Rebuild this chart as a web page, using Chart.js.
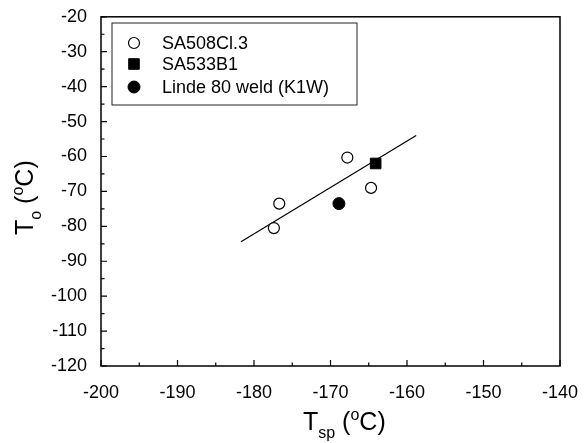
<!DOCTYPE html>
<html>
<head>
<meta charset="utf-8">
<script src="https://cdn.jsdelivr.net/npm/chart.js@4.4.0/dist/chart.umd.min.js"></script>
<style>
  html, body { margin: 0; padding: 0; background: #fff; }
  #wrap { width: 587px; height: 443px; }
</style>
</head>
<body>
<div id="wrap"><canvas id="chart" width="587" height="443"></canvas></div>
<script>
// values
var sa508_x = [-177.4, -176.7, -167.8, -164.7];
var sa508_y = [-80.5, -73.5, -60.3, -69.0];
var sa533_x = [-164.1];
var sa533_y = [-62.0];
var linde_x = [-168.9];
var linde_y = [-73.5];
var fit_x = [-181.7, -158.8];
var fit_y = [-84.4, -54.0];

var legend_labels = ['SA508Cl.3', 'SA533B1', 'Linde 80 weld (K1W)'];

var toPoints = function (xs, ys) {
    return xs.map(function (x, i) { return {x: x, y: ys[i]}; });
};

var FONT = '"Liberation Sans", Arial, Helvetica, sans-serif';

// frame, inward ticks, axis titles and legend box
var decorations = {
    id: 'decorations',
    afterDraw: function (chart) {
        var ctx = chart.ctx;
        var a = chart.chartArea;
        var xs = chart.scales.x, ys = chart.scales.y;
        ctx.save();
        ctx.strokeStyle = '#000';
        ctx.lineWidth = 1.5;
        ctx.strokeRect(a.left, a.top, a.right - a.left, a.bottom - a.top);

        ctx.lineWidth = 1.2;
        ctx.beginPath();
        var v, p, len;
        for (v = -200; v <= -140; v += 5) {
            p = xs.getPixelForValue(v);
            len = (v % 10 === 0) ? 6 : 3.5;
            ctx.moveTo(p, a.bottom);
            ctx.lineTo(p, a.bottom - len);
        }
        for (v = -120; v <= -20; v += 5) {
            p = ys.getPixelForValue(v);
            len = (v % 10 === 0) ? 6 : 3.5;
            ctx.moveTo(a.left, p);
            ctx.lineTo(a.left + len, p);
        }
        ctx.stroke();

        ctx.fillStyle = '#000';
        ctx.textBaseline = 'alphabetic';
        ctx.textAlign = 'left';
        var big = '25px ' + FONT, small = '16px ' + FONT;

        // x title: T_sp (oC)
        var x = 303, y = 430;
        ctx.font = big; ctx.fillText('T', x, y); x += ctx.measureText('T').width;
        ctx.font = small; ctx.fillText('sp', x, y + 8); x += ctx.measureText('sp').width;
        ctx.font = big; ctx.fillText(' (', x, y); x += ctx.measureText(' (').width;
        ctx.font = small; ctx.fillText('o', x, y - 10); x += ctx.measureText('o').width;
        ctx.font = big; ctx.fillText('C)', x, y);

        // y title: T_o (oC), rotated
        ctx.save();
        ctx.translate(33, 235);
        ctx.rotate(-Math.PI / 2);
        x = 0; y = 0;
        ctx.font = big; ctx.fillText('T', x, y); x += ctx.measureText('T').width;
        ctx.font = small; ctx.fillText('o', x, y + 8); x += ctx.measureText('o').width;
        ctx.font = big; ctx.fillText(' (', x, y); x += ctx.measureText(' (').width;
        ctx.font = small; ctx.fillText('o', x, y - 10); x += ctx.measureText('o').width;
        ctx.font = big; ctx.fillText('C)', x, y);
        ctx.restore();

        // legend
        ctx.lineWidth = 1;
        ctx.strokeStyle = '#222';
        ctx.strokeRect(112, 23, 245, 82);
        var rows = [43, 64, 87];
        var styles = chart.data.datasets.slice(0, 3);
        ctx.font = '18px ' + FONT;
        ctx.textBaseline = 'middle';
        for (var i = 0; i < 3; i++) {
            var ds = styles[i];
            ctx.fillStyle = ds.backgroundColor;
            ctx.strokeStyle = ds.borderColor;
            ctx.lineWidth = ds.borderWidth;
            Chart.helpers.drawPoint(ctx, {
                pointStyle: ds.pointStyle,
                radius: ds.pointRadius,
                borderWidth: ds.borderWidth,
                rotation: 0
            }, 134, rows[i]);
            ctx.fillStyle = '#000';
            ctx.fillText(legend_labels[i], 162, rows[i] + 1);
        }
        ctx.restore();
    }
};

var ctx = document.getElementById('chart').getContext('2d');
var chart = new Chart(ctx, {
    type: 'scatter',
    data: {
        datasets: [
            {
                label: legend_labels[0],
                data: toPoints(sa508_x, sa508_y),
                pointStyle: 'circle',
                pointRadius: 5.5,
                backgroundColor: '#fff',
                borderColor: '#000',
                borderWidth: 1.2
            },
            {
                label: legend_labels[1],
                data: toPoints(sa533_x, sa533_y),
                pointStyle: 'rect',
                pointRadius: 7.5,
                backgroundColor: '#000',
                borderColor: '#000',
                borderWidth: 1
            },
            {
                label: legend_labels[2],
                data: toPoints(linde_x, linde_y),
                pointStyle: 'circle',
                pointRadius: 6,
                backgroundColor: '#000',
                borderColor: '#000',
                borderWidth: 1
            },
            {
                label: 'fit',
                type: 'line',
                data: toPoints(fit_x, fit_y),
                showLine: true,
                pointRadius: 0,
                borderColor: '#000',
                borderWidth: 1.2,
                fill: false
            }
        ]
    },
    options: {
        responsive: false,
        animation: false,
        layout: { padding: { top: 14, right: 27, left: 0, bottom: 0 } },
        plugins: {
            legend: { display: false },
            tooltip: { enabled: false }
        },
        scales: {
            x: {
                type: 'linear',
                min: -200, max: -140,
                grid: { display: false },
                border: { display: false },
                ticks: {
                    stepSize: 10,
                    padding: 8,
                    color: '#000',
                    font: { family: FONT, size: 18 },
                    maxRotation: 0
                },
                afterFit: function (scale) { scale.height = 77; }
            },
            y: {
                type: 'linear',
                min: -120, max: -20,
                grid: { display: false },
                border: { display: false },
                ticks: {
                    stepSize: 10,
                    padding: 6,
                    color: '#000',
                    font: { family: FONT, size: 18 }
                },
                afterFit: function (scale) { scale.width = 101; }
            }
        }
    },
    plugins: [decorations]
});
</script>
</body>
</html>
